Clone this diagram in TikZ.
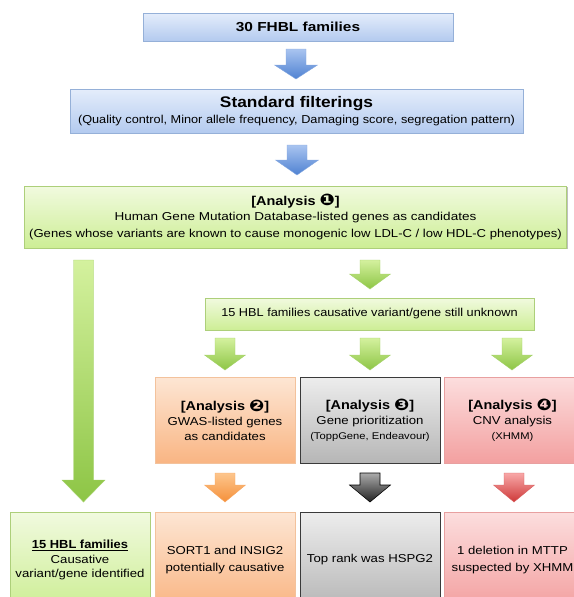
\documentclass[tikz,border=0pt]{standalone}
\usepackage{fontspec}
\usepackage{graphicx}
\setmainfont{Liberation Sans}
\newfontfamily\dv{DejaVu Sans}
\usetikzlibrary{shadows}
\definecolor{bbT}{HTML}{E4EDFB}\definecolor{bbB}{HTML}{B3CAEF}\definecolor{bbD}{HTML}{95B0D8}
\definecolor{baT}{HTML}{A9C4F0}\definecolor{baB}{HTML}{4F82D2}
\definecolor{gbT}{HTML}{F1FADF}\definecolor{gbB}{HTML}{CDEE95}\definecolor{gbD}{HTML}{ADCF7A}
\definecolor{gaT}{HTML}{D4F19E}\definecolor{gaB}{HTML}{8DC545}
\definecolor{obT}{HTML}{FDE6D4}\definecolor{obB}{HTML}{F9B583}\definecolor{obD}{HTML}{F3C29C}
\definecolor{oaT}{HTML}{FDC68D}\definecolor{oaB}{HTML}{F5903A}
\definecolor{kbT}{HTML}{EDEDED}\definecolor{kbB}{HTML}{B6B6B6}\definecolor{kbD}{HTML}{3A3A3A}
\definecolor{kaT}{HTML}{ABABAB}\definecolor{kaB}{HTML}{222222}
\definecolor{rbT}{HTML}{FCDEDE}\definecolor{rbB}{HTML}{F3A0A0}\definecolor{rbD}{HTML}{E8A0A0}
\definecolor{raT}{HTML}{F8A8A8}\definecolor{raB}{HTML}{CE3838}
\tikzset{
  box/.style={rectangle, inner sep=0pt, align=center, line width=0.6pt,
    drop shadow={shadow xshift=0.9pt, shadow yshift=-0.9pt, opacity=0.25, fill=black}},
  bluebox/.style={box, draw=bbD, top color=bbT, bottom color=bbB},
  greenbox/.style={box, draw=gbD, top color=gbT, bottom color=gbB},
  orangebox/.style={box, draw=obD, top color=obT, bottom color=obB},
  graybox/.style={box, draw=kbD, top color=kbT, bottom color=kbB},
  redbox/.style={box, draw=rbD, top color=rbT, bottom color=rbB},
  bluearr/.style={top color=baT, bottom color=baB, draw=baB!70, line width=0.3pt},
  greenarr/.style={top color=gaT, bottom color=gaB, draw=gaB!80, line width=0.3pt},
  orangearr/.style={top color=oaT, bottom color=oaB, draw=oaB!80, line width=0.3pt},
  grayarr/.style={top color=kaT, bottom color=kaB, draw=black, line width=0.4pt},
  redarr/.style={top color=raT, bottom color=raB, draw=raB!80, line width=0.3pt},
}
% #1 cx, #2 ytop, #3 yhead, #4 ytip, #5 half shaft, #6 half head, #7 style
\newcommand\barr[7]{\shade[#7] (#1-#5,#2) -- (#1+#5,#2) -- (#1+#5,#3) -- (#1+#6,#3) -- (#1,#4) -- (#1-#6,#3) -- (#1-#5,#3) -- cycle;}
\newcommand\txt[1]{\scalebox{1.15}[1]{\fontsize{8.6}{12}\selectfont #1}}
\newcommand\smalltxt[1]{\scalebox{1.15}[1]{\fontsize{7.3}{12}\selectfont #1}}
\newcommand\bld[1]{\scalebox{1.13}[1]{\fontsize{9.6}{12}\selectfont\bfseries #1}}
\newcommand\cn[1]{\raisebox{-0.3pt}{\scalebox{1.25}{\dv #1}}}
\begin{document}
\begin{tikzpicture}[x=0.75pt,y=-0.75pt]
\useasboundingbox (0,0) rectangle (574,597);
% top boxes
\node[bluebox, minimum width=232.5pt, minimum height=21pt] (b1) at (298,27)
  {\scalebox{1.18}[1]{\fontsize{9.8}{12}\selectfont\bfseries 30 FHBL families}};
\node[bluebox, minimum width=339.75pt, minimum height=33pt] (b2) at (296.5,111)
  {\scalebox{1.13}[1]{\fontsize{11.5}{14}\selectfont\bfseries Standard filterings}\\[0.5pt]
   \scalebox{1.11}[1]{\fontsize{8.6}{12}\selectfont (Quality control, Minor allele frequency, Damaging score, segregation pattern)}};
\node[greenbox, minimum width=406.5pt, minimum height=46.5pt] (b3) at (295.5,217)
  {\bld{[Analysis \cn{❶}]}\\[-0.5pt]
   \scalebox{1.18}[1]{\fontsize{8.6}{12}\selectfont Human Gene Mutation Database-listed genes as candidates}\\[0.3pt]
   \scalebox{1.14}[1]{\fontsize{8.6}{12}\selectfont (Genes whose variants are known to cause monogenic low LDL-C / low HDL-C phenotypes)}};
\node[greenbox, minimum width=246.75pt, minimum height=24pt] (b4) at (369.5,314)
  {\scalebox{1.11}[1]{\fontsize{8.6}{12}\selectfont 15 HBL families causative variant/gene still unknown}};
% row 2
\node[orangebox, minimum width=105pt, minimum height=64.5pt] (a2) at (225,420)
  {\bld{[Analysis \cn{❷}]}\\[-1pt]\txt{GWAS-listed genes}\\[-1pt]\txt{as candidates}};
\node[graybox, minimum width=105pt, minimum height=64.5pt] (a3) at (370,420)
  {\bld{[Analysis \cn{❸}]}\\[-1pt]\txt{Gene prioritization}\\[-1pt]\smalltxt{(ToppGene, Endeavour)}};
\node[redbox, minimum width=102.75pt, minimum height=64.5pt] (a4) at (512.5,420)
  {\bld{[Analysis \cn{❹}]}\\[-1pt]\txt{CNV analysis}\\[-1pt]\smalltxt{(XHMM)}};
% row 3
\node[greenbox, minimum width=105pt, minimum height=72pt] (c1) at (80,560)
  {\scalebox{1.1}[1]{\fontsize{8.8}{12}\selectfont\bfseries\underline{15 HBL families}}\\[-1pt]\txt{Causative}\\[-1pt]\txt{variant/gene identified}};
\node[orangebox, minimum width=105pt, minimum height=72pt] (c2) at (225,560)
  {\txt{SORT1 and INSIG2}\\[1pt]\txt{potentially causative}};
\node[graybox, minimum width=105pt, minimum height=72pt] (c3) at (370,560)
  {\txt{Top rank was HSPG2}};
\node[redbox, minimum width=102.75pt, minimum height=72pt] (c4) at (512.5,560)
  {\txt{1 deletion in MTTP}\\[1pt]\txt{suspected by XHMM}};
% arrows
\barr{296}{49}{65}{79}{10}{21.5}{bluearr}
\barr{297}{145}{160}{175}{10}{21.5}{bluearr}
\barr{83.5}{260}{480}{502}{10}{21.5}{greenarr}
\barr{370}{260}{274}{289}{10}{20.5}{greenarr}
\barr{225}{338}{355}{370}{10}{20.5}{greenarr}
\barr{370}{338}{355}{370}{10}{20.5}{greenarr}
\barr{512}{338}{355}{370}{10}{20.5}{greenarr}
\barr{225}{473}{485}{502}{10}{20.5}{orangearr}
\barr{370}{473}{485}{502}{10}{20.5}{grayarr}
\barr{514}{473}{485}{502}{10}{20.5}{redarr}
\end{tikzpicture}
\end{document}
